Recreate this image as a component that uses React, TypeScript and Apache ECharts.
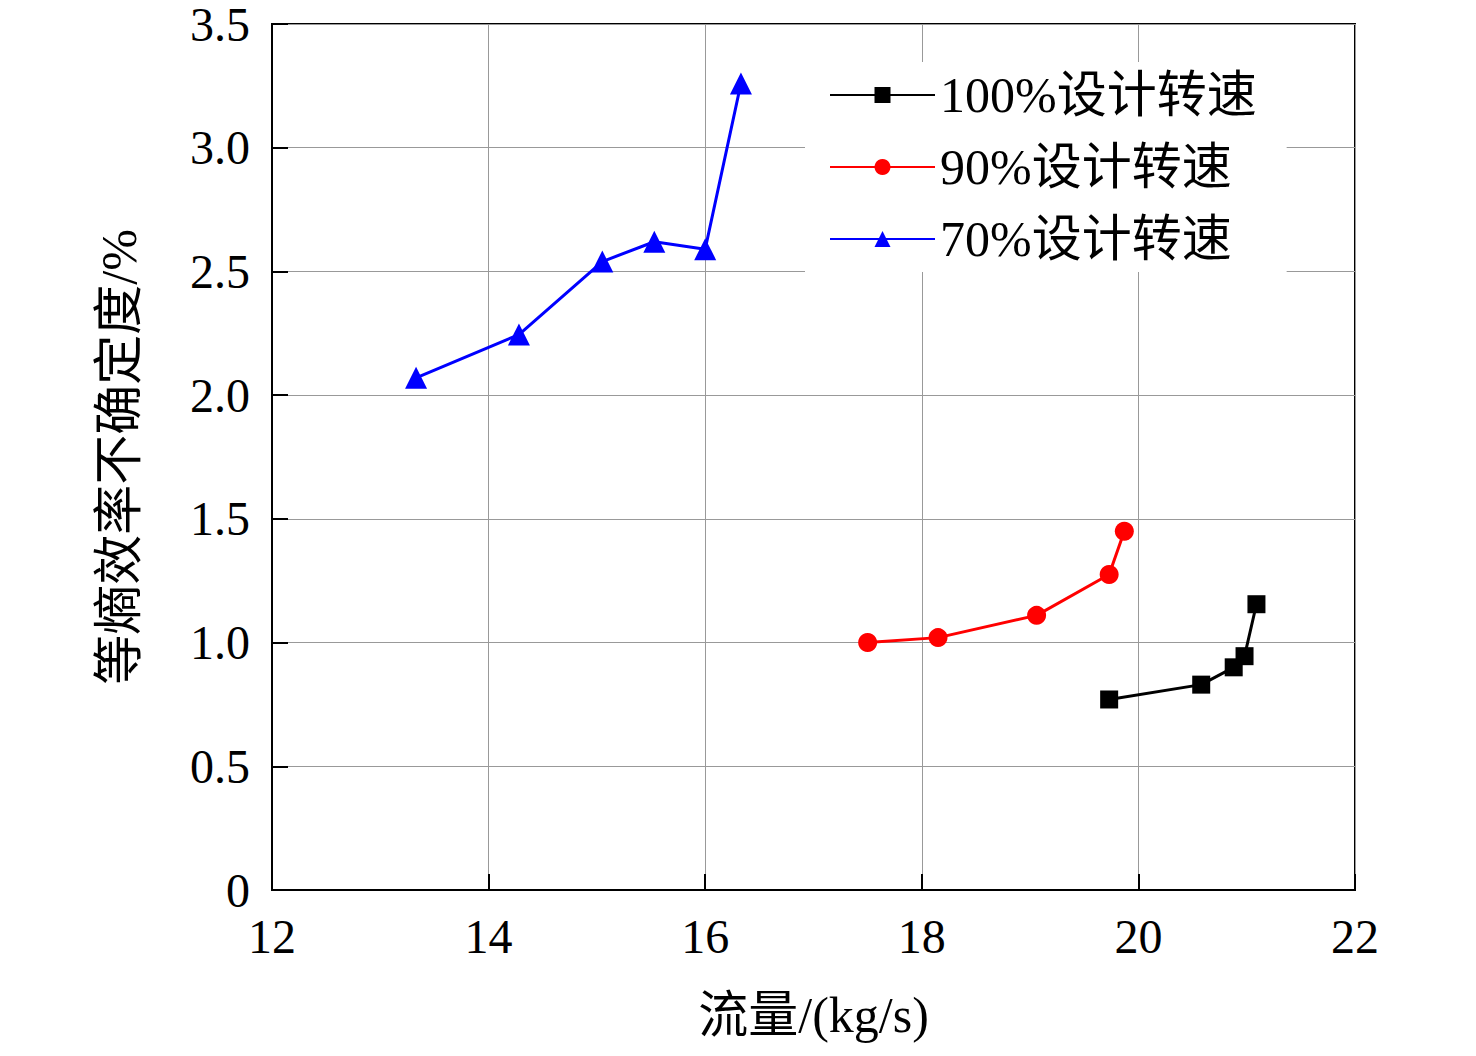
import React, { useEffect, useRef } from 'react';
import * as echarts from 'echarts';

const xTicks = [12, 14, 16, 18, 20, 22];
const yTicks = ['0', '0.5', '1.0', '1.5', '2.0', '2.5', '3.0', '3.5'];

const speed100: [number, number][] = [
    [19.73, 0.77], [20.58, 0.83], [20.88, 0.9], [20.98, 0.945], [21.09, 1.155],
];
const speed90: [number, number][] = [
    [17.5, 1.0], [18.15, 1.02], [19.06, 1.11], [19.73, 1.275], [19.87, 1.45],
];
const speed70: [number, number][] = [
    [13.33, 2.07], [14.28, 2.245], [15.05, 2.54], [15.53, 2.62], [16.0, 2.59], [16.33, 3.26],
];

const names = ['100%设计转速', '90%设计转速', '70%设计转速'];
const font = '"Liberation Serif", "Noto Sans CJK SC", serif';

const App: React.FC = () => {
    const chartRef = useRef<HTMLDivElement>(null);

    useEffect(() => {
        if (!chartRef.current) return;
        const chart = echarts.init(chartRef.current, undefined, { renderer: 'svg' });

        const axisCommon = {
            axisLine: { show: true, lineStyle: { color: '#000', width: 2 } },
            axisTick: { show: true, inside: true, length: 16, lineStyle: { color: '#000', width: 2 } },
            splitLine: { show: true, lineStyle: { color: '#999', width: 1 } },
            axisLabel: { color: '#000', fontSize: 48, fontFamily: font },
            nameTextStyle: { color: '#000', fontSize: 50, fontFamily: font },
        };

        chart.setOption({
            animation: false,
            grid: {
                left: 272, right: 121, top: 20, bottom: 166,
                show: true, borderColor: '#000', borderWidth: 2, backgroundColor: '#fff',
            },
            legend: {
                orient: 'vertical',
                left: 805, top: 62,
                padding: [8, 30, 8, 24],
                backgroundColor: '#fff',
                itemWidth: 105, itemHeight: 20, itemGap: 22,
                data: names,
                textStyle: { color: '#000', fontSize: 50, fontFamily: font },
            },
            xAxis: {
                type: 'value',
                min: xTicks[0], max: xTicks[xTicks.length - 1], interval: 2,
                name: '流量/(kg/s)', nameLocation: 'middle', nameGap: 100,
                ...axisCommon,
                axisLabel: { ...axisCommon.axisLabel, margin: 22 },
            },
            yAxis: {
                type: 'value',
                min: 0, max: 3.5, interval: 0.5,
                name: '等熵效率不确定度/%', nameLocation: 'middle', nameGap: 128,
                ...axisCommon,
                axisLabel: {
                    ...axisCommon.axisLabel, margin: 22, padding: [8, 0, 0, 0],
                    formatter: (v: number) => yTicks[Math.round(v / 0.5)],
                },
            },
            series: [
                { name: names[0], data: speed100, color: '#000', symbol: 'rect', symbolSize: 18 },
                { name: names[1], data: speed90, color: '#f00', symbol: 'circle', symbolSize: 19 },
                { name: names[2], data: speed70, color: '#00f', symbol: 'triangle', symbolSize: 22 },
            ].map(s => ({
                ...s, type: 'line', lineStyle: { width: 3 },
                itemStyle: { color: s.color },
            })),
        });

        return () => chart.dispose();
    }, []);

    return <div ref={chartRef} style={{ position: 'fixed', left: 0, top: 0, width: 1476, height: 1056, background: '#fff' }} />;
};

export default App;
